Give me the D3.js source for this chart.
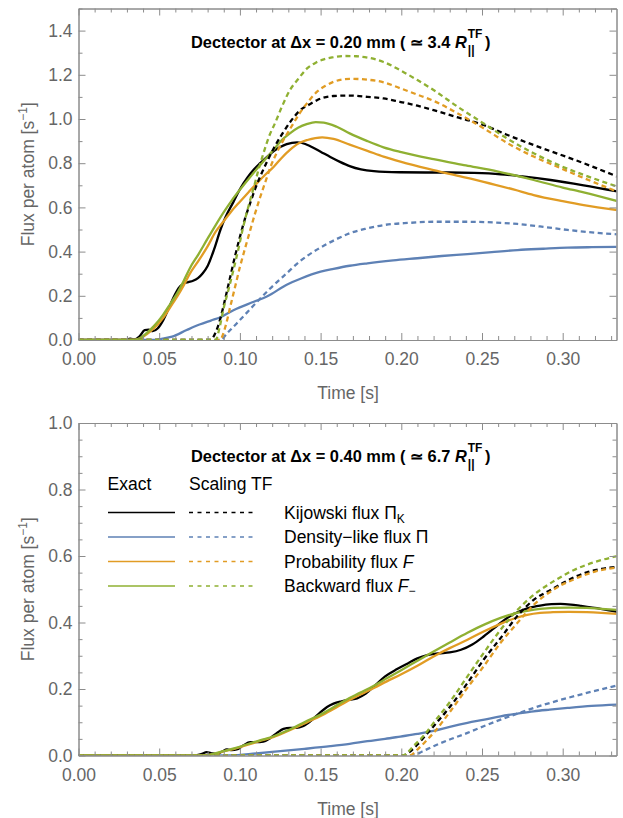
<!DOCTYPE html>
<html>
<head>
<meta charset="utf-8">
<script src="https://cdn.jsdelivr.net/npm/d3@7"></script>
<style>
  body { margin: 0; background: #fff; }
  svg { display: block; }
</style>
</head>
<body>
<svg id="chart" width="623" height="818"></svg>
<script>
// ---------------------------------------------------------------
// Data: arrival-time flux per atom, [time (s), flux (1/s)]
// ---------------------------------------------------------------
const timeTicks = [0, 0.05, 0.10, 0.15, 0.20, 0.25, 0.30];
const fluxTicksTop = [0, 0.2, 0.4, 0.6, 0.8, 1.0, 1.2, 1.4];
const fluxTicksBottom = [0, 0.2, 0.4, 0.6, 0.8, 1.0];

const titleTop = "Dectector at \u0394x = 0.20 mm ( \u2243 3.4 ";
const titleBottom = "Dectector at \u0394x = 0.40 mm ( \u2243 6.7 ";

// Detector at 0.20 mm
const topKijowskiExact = [[0,0],[0.029,0],[0.032,0.006],[0.035,0.003],[0.038,0.018],[0.041,0.045],[0.0435,0.047],[0.046,0.04],[0.049,0.052],[0.0525,0.09],[0.056,0.145],[0.059,0.195],[0.062,0.235],[0.065,0.255],[0.068,0.262],[0.071,0.268],[0.074,0.28],[0.077,0.302],[0.080,0.335],[0.084,0.41],[0.088,0.50],[0.091,0.555],[0.096,0.625],[0.100,0.682],[0.1045,0.733],[0.1085,0.77],[0.1126,0.80],[0.117,0.83],[0.121,0.855],[0.125,0.873],[0.129,0.886],[0.1355,0.894],[0.1405,0.887],[0.1436,0.877],[0.150,0.852],[0.156,0.828],[0.162,0.806],[0.168,0.787],[0.175,0.772],[0.183,0.764],[0.199,0.759],[0.215,0.758],[0.230,0.758],[0.245,0.756],[0.2615,0.75],[0.275,0.74],[0.2925,0.724],[0.313,0.70],[0.334,0.672]];
const topDensityExact = [[0,0],[0.046,0],[0.052,0.006],[0.058,0.015],[0.067,0.045],[0.075,0.07],[0.082,0.088],[0.088,0.103],[0.096,0.135],[0.1086,0.173],[0.117,0.198],[0.129,0.25],[0.1375,0.277],[0.15,0.309],[0.158,0.322],[0.168,0.336],[0.179,0.347],[0.195,0.36],[0.21,0.37],[0.225,0.38],[0.241,0.389],[0.256,0.398],[0.272,0.407],[0.288,0.413],[0.303,0.418],[0.318,0.42],[0.334,0.421]];
const topProbabilityExact = [[0,0],[0.034,0],[0.038,0.006],[0.042,0.025],[0.047,0.055],[0.0525,0.10],[0.057,0.15],[0.061,0.195],[0.065,0.245],[0.069,0.30],[0.0745,0.36],[0.0797,0.42],[0.085,0.49],[0.0897,0.535],[0.095,0.585],[0.100,0.626],[0.1055,0.67],[0.1106,0.71],[0.116,0.75],[0.121,0.784],[0.126,0.825],[0.131,0.86],[0.1365,0.89],[0.1418,0.905],[0.151,0.917],[0.158,0.91],[0.168,0.884],[0.179,0.856],[0.189,0.83],[0.20,0.806],[0.22,0.769],[0.24,0.735],[0.251,0.716],[0.27,0.68],[0.282,0.656],[0.30,0.628],[0.313,0.61],[0.334,0.588]];
const topBackwardExact = [[0,0],[0.034,0],[0.038,0.008],[0.042,0.03],[0.047,0.065],[0.0525,0.115],[0.057,0.165],[0.061,0.21],[0.065,0.265],[0.069,0.325],[0.0745,0.39],[0.0797,0.455],[0.085,0.52],[0.0897,0.575],[0.095,0.632],[0.100,0.68],[0.1055,0.73],[0.1106,0.775],[0.116,0.82],[0.121,0.862],[0.126,0.905],[0.131,0.935],[0.136,0.96],[0.1418,0.978],[0.147,0.986],[0.152,0.984],[0.16,0.965],[0.168,0.935],[0.179,0.9],[0.189,0.872],[0.20,0.85],[0.22,0.818],[0.24,0.79],[0.26,0.762],[0.282,0.724],[0.30,0.69],[0.313,0.668],[0.334,0.628]];
const topKijowskiTF = [[0,0],[0.0816,0],[0.085,0.035],[0.088,0.10],[0.091,0.19],[0.094,0.285],[0.097,0.38],[0.10,0.466],[0.1032,0.55],[0.1064,0.62],[0.1095,0.685],[0.1126,0.74],[0.117,0.81],[0.121,0.868],[0.126,0.93],[0.131,0.985],[0.1374,1.04],[0.1436,1.068],[0.148,1.086],[0.158,1.104],[0.168,1.106],[0.179,1.10],[0.189,1.093],[0.199,1.078],[0.21,1.06],[0.22,1.04],[0.235,1.007],[0.251,0.973],[0.265,0.93],[0.282,0.882],[0.298,0.84],[0.313,0.80],[0.334,0.739]];
const topDensityTF = [[0,0],[0.088,0],[0.092,0.03],[0.098,0.075],[0.1086,0.157],[0.119,0.235],[0.129,0.302],[0.137,0.355],[0.148,0.41],[0.154,0.435],[0.16,0.457],[0.168,0.483],[0.179,0.505],[0.189,0.52],[0.205,0.53],[0.22,0.535],[0.241,0.535],[0.257,0.532],[0.272,0.525],[0.288,0.512],[0.303,0.498],[0.318,0.487],[0.334,0.478]];
const topProbabilityTF = [[0,0],[0.0875,0],[0.091,0.06],[0.094,0.15],[0.097,0.24],[0.10,0.33],[0.1032,0.415],[0.1064,0.497],[0.1095,0.575],[0.1126,0.647],[0.116,0.72],[0.119,0.784],[0.123,0.85],[0.127,0.905],[0.1323,0.97],[0.1374,1.03],[0.1425,1.08],[0.148,1.125],[0.153,1.15],[0.158,1.168],[0.168,1.182],[0.179,1.178],[0.189,1.166],[0.199,1.14],[0.21,1.11],[0.22,1.082],[0.235,1.025],[0.251,0.958],[0.266,0.89],[0.282,0.83],[0.298,0.78],[0.313,0.733],[0.334,0.671]];
const topBackwardTF = [[0,0],[0.085,0],[0.0875,0.06],[0.0897,0.136],[0.093,0.23],[0.096,0.317],[0.099,0.41],[0.102,0.51],[0.1055,0.61],[0.1086,0.69],[0.1115,0.77],[0.1146,0.845],[0.118,0.92],[0.122,0.985],[0.126,1.055],[0.131,1.131],[0.136,1.18],[0.1418,1.23],[0.147,1.255],[0.152,1.27],[0.158,1.28],[0.164,1.285],[0.172,1.284],[0.179,1.278],[0.189,1.258],[0.199,1.222],[0.21,1.176],[0.22,1.131],[0.235,1.055],[0.251,0.98],[0.266,0.91],[0.282,0.845],[0.298,0.79],[0.313,0.747],[0.334,0.694]];

// Detector at 0.40 mm
const bottomKijowskiExact = [[0,0],[0.072,0],[0.076,0.004],[0.0795,0.01],[0.083,0.006],[0.0857,0.005],[0.089,0.012],[0.092,0.018],[0.095,0.016],[0.098,0.018],[0.102,0.03],[0.1064,0.04],[0.110,0.04],[0.1145,0.042],[0.119,0.053],[0.123,0.068],[0.127,0.08],[0.131,0.083],[0.135,0.083],[0.139,0.088],[0.144,0.104],[0.149,0.126],[0.154,0.146],[0.158,0.156],[0.163,0.163],[0.168,0.168],[0.1726,0.172],[0.178,0.186],[0.184,0.212],[0.19,0.238],[0.1974,0.26],[0.204,0.277],[0.21,0.292],[0.216,0.302],[0.223,0.307],[0.23,0.31],[0.237,0.318],[0.244,0.334],[0.251,0.358],[0.2575,0.383],[0.2615,0.399],[0.267,0.418],[0.272,0.431],[0.279,0.444],[0.286,0.451],[0.293,0.455],[0.2987,0.456],[0.305,0.454],[0.311,0.45],[0.3235,0.441],[0.334,0.432]];
const bottomDensityExact = [[0,0],[0.094,0],[0.11,0.006],[0.125,0.013],[0.14,0.02],[0.156,0.028],[0.168,0.035],[0.179,0.043],[0.19,0.05],[0.1994,0.057],[0.21,0.065],[0.22,0.074],[0.23,0.086],[0.241,0.098],[0.2515,0.108],[0.2615,0.118],[0.272,0.126],[0.282,0.133],[0.292,0.138],[0.303,0.143],[0.318,0.149],[0.334,0.153]];
const bottomProbabilityExact = [[0,0],[0.078,0],[0.083,0.003],[0.0897,0.012],[0.097,0.021],[0.104,0.031],[0.112,0.043],[0.121,0.056],[0.128,0.07],[0.135,0.085],[0.142,0.101],[0.15,0.119],[0.158,0.14],[0.166,0.162],[0.175,0.184],[0.183,0.203],[0.191,0.223],[0.1994,0.243],[0.21,0.27],[0.22,0.298],[0.23,0.323],[0.241,0.348],[0.251,0.373],[0.2615,0.396],[0.27,0.412],[0.278,0.423],[0.286,0.429],[0.294,0.431],[0.304,0.432],[0.315,0.431],[0.324,0.429],[0.334,0.426]];
const bottomBackwardExact = [[0,0],[0.077,0],[0.082,0.003],[0.0897,0.013],[0.097,0.022],[0.104,0.033],[0.112,0.045],[0.121,0.058],[0.128,0.072],[0.135,0.088],[0.142,0.105],[0.15,0.123],[0.158,0.145],[0.166,0.168],[0.175,0.19],[0.183,0.21],[0.191,0.232],[0.1994,0.255],[0.21,0.285],[0.22,0.313],[0.23,0.34],[0.241,0.369],[0.251,0.393],[0.2615,0.414],[0.27,0.427],[0.278,0.435],[0.286,0.441],[0.294,0.444],[0.304,0.445],[0.315,0.444],[0.324,0.441],[0.334,0.438]];
const bottomKijowskiTF = [[0,0],[0.2015,0],[0.205,0.01],[0.21,0.033],[0.215,0.06],[0.22,0.088],[0.2304,0.148],[0.241,0.218],[0.251,0.288],[0.2615,0.353],[0.272,0.42],[0.282,0.468],[0.2925,0.498],[0.3006,0.52],[0.307,0.536],[0.315,0.551],[0.324,0.561],[0.334,0.568]];
const bottomDensityTF = [[0,0],[0.2075,0],[0.213,0.012],[0.22,0.028],[0.23,0.048],[0.241,0.068],[0.251,0.088],[0.2615,0.108],[0.272,0.126],[0.282,0.143],[0.292,0.158],[0.303,0.173],[0.318,0.192],[0.334,0.211]];
const bottomProbabilityTF = [[0,0],[0.205,0],[0.21,0.018],[0.215,0.042],[0.22,0.068],[0.2304,0.133],[0.241,0.204],[0.251,0.268],[0.2615,0.339],[0.272,0.399],[0.282,0.453],[0.294,0.498],[0.307,0.53],[0.32,0.553],[0.334,0.566]];
const bottomBackwardTF = [[0,0],[0.201,0],[0.204,0.01],[0.2075,0.028],[0.214,0.06],[0.22,0.098],[0.2304,0.163],[0.241,0.238],[0.251,0.308],[0.2615,0.378],[0.272,0.438],[0.282,0.483],[0.294,0.523],[0.307,0.558],[0.32,0.582],[0.334,0.60]];

// Legend
const legendNames = ["Kijowski flux", "Density\u2212like flux", "Probability flux", "Backward flux"];
const legendHeaders = ["Exact", "Scaling TF"];

// ---------------------------------------------------------------
// Styling and layout
// ---------------------------------------------------------------
const FONT = "'Liberation Sans', Arial, Helvetica, sans-serif";
const colors = ["#000000", "#5E81B5", "#E19C24", "#8FB032"];
const frameColor = "#8c8c8c";
const labelColor = "#666666";
const left = 78.5, right = 616.5;

const svg = d3.select("#chart").style("font-family", FONT);

const x = d3.scaleLinear().domain([0, 1 / 3]).range([left, right]);

const panels = [
  { top: 8.5, bottom: 340, yMax: 1.5, yTicks: fluxTicksTop, minorStep: 0.1,
    title: titleTop, titleY: 47.5,
    exact: [topKijowskiExact, topDensityExact, topProbabilityExact, topBackwardExact],
    tf: [topKijowskiTF, topDensityTF, topProbabilityTF, topBackwardTF], legend: false },
  { top: 423, bottom: 755.5, yMax: 1.0, yTicks: fluxTicksBottom, minorStep: 0.05,
    title: titleBottom, titleY: 462,
    exact: [bottomKijowskiExact, bottomDensityExact, bottomProbabilityExact, bottomBackwardExact],
    tf: [bottomKijowskiTF, bottomDensityTF, bottomProbabilityTF, bottomBackwardTF], legend: true }
];

function styleAxis(g) {
  g.attr("font-family", FONT);
  g.select(".domain").attr("stroke", frameColor);
  g.selectAll(".tick line").attr("stroke", frameColor);
  g.selectAll(".tick text").attr("fill", labelColor).attr("font-size", 17.5);
}

// Bold title ending in R with a stacked "||" subscript and "TF" superscript
function drawTitle(g, x0, yBase, prefix) {
  const t = g.append("text").attr("x", x0).attr("y", yBase)
    .attr("font-size", 16.4).attr("font-weight", "bold").attr("fill", "#000");
  t.append("tspan").text(prefix);
  t.append("tspan").attr("font-style", "italic").text("R");
  const xs = x0 + t.node().getComputedTextLength() + 1;
  const sub = g.append("text").attr("x", xs).attr("y", yBase + 6)
    .attr("font-size", 12).attr("font-weight", "bold").text("||");
  const sup = g.append("text").attr("x", xs).attr("y", yBase - 10)
    .attr("font-size", 12).attr("font-weight", "bold").text("TF");
  const w2 = Math.max(sub.node().getComputedTextLength(), sup.node().getComputedTextLength());
  g.append("text").attr("x", xs + w2 + 2.5).attr("y", yBase)
    .attr("font-size", 16.4).attr("font-weight", "bold").text(")");
}

panels.forEach((p, i) => {
  const y = d3.scaleLinear().domain([0, p.yMax]).range([p.bottom, p.top]);
  const g = svg.append("g");
  const minorX = d3.range(0, 0.3401, 0.01).filter(v => Math.abs(v / 0.05 - Math.round(v / 0.05)) > 1e-6);
  const minorY = d3.range(0, p.yMax + 1e-9, p.minorStep)
    .filter(v => Math.abs(v / 0.2 - Math.round(v / 0.2)) > 1e-6);

  // clip region for the curves
  const clipId = "clip" + i;
  svg.append("clipPath").attr("id", clipId).append("rect")
    .attr("x", left).attr("y", p.top).attr("width", right - left).attr("height", p.bottom - p.top);

  // curves: exact solutions solid, scaling Thomas-Fermi dashed
  const line = d3.line().x(d => x(d[0])).y(d => y(d[1])).curve(d3.curveMonotoneX);
  const curves = g.append("g").attr("clip-path", `url(#${clipId})`);
  p.exact.forEach((s, k) => {
    curves.append("path").datum(s).attr("d", line).attr("fill", "none")
      .attr("stroke", colors[k]).attr("stroke-width", 2.3).attr("stroke-linejoin", "round");
  });
  p.tf.forEach((s, k) => {
    curves.append("path").datum(s).attr("d", line).attr("fill", "none")
      .attr("stroke", colors[k]).attr("stroke-width", 2.3).attr("stroke-dasharray", "5,3.5");
  });

  // frame with inward ticks on all four sides
  g.append("g").attr("transform", `translate(0,${p.bottom})`)
    .call(d3.axisBottom(x).tickValues(timeTicks).tickSize(-7).tickSizeOuter(0)
      .tickPadding(13).tickFormat(d3.format(".2f")))
    .call(styleAxis);
  g.append("g").attr("transform", `translate(0,${p.bottom})`)
    .call(d3.axisBottom(x).tickValues(minorX).tickSize(-4).tickSizeOuter(0).tickFormat(""))
    .call(styleAxis);
  g.append("g").attr("transform", `translate(0,${p.top})`)
    .call(d3.axisTop(x).tickValues(timeTicks).tickSize(-7).tickSizeOuter(0).tickFormat(""))
    .call(styleAxis);
  g.append("g").attr("transform", `translate(0,${p.top})`)
    .call(d3.axisTop(x).tickValues(minorX).tickSize(-4).tickSizeOuter(0).tickFormat(""))
    .call(styleAxis);
  g.append("g").attr("transform", `translate(${left},0)`)
    .call(d3.axisLeft(y).tickValues(p.yTicks).tickSize(-7).tickSizeOuter(0)
      .tickPadding(6).tickFormat(d3.format(".1f")))
    .call(styleAxis);
  g.append("g").attr("transform", `translate(${left},0)`)
    .call(d3.axisLeft(y).tickValues(minorY).tickSize(-4).tickSizeOuter(0).tickFormat(""))
    .call(styleAxis);
  g.append("g").attr("transform", `translate(${right},0)`)
    .call(d3.axisRight(y).tickValues(p.yTicks).tickSize(-7).tickSizeOuter(0).tickFormat(""))
    .call(styleAxis);
  g.append("g").attr("transform", `translate(${right},0)`)
    .call(d3.axisRight(y).tickValues(minorY).tickSize(-4).tickSizeOuter(0).tickFormat(""))
    .call(styleAxis);

  // axis labels
  g.append("text").attr("x", (left + right) / 2 + 0.5).attr("y", p.bottom + 59)
    .attr("text-anchor", "middle").attr("font-size", 17.5).attr("fill", labelColor)
    .text("Time [s]");
  const yl = g.append("text")
    .attr("transform", `translate(33.5,${(p.top + p.bottom) / 2}) rotate(-90)`)
    .attr("text-anchor", "middle").attr("font-size", 17.5).attr("fill", labelColor);
  yl.append("tspan").text("Flux per atom [s");
  yl.append("tspan").attr("font-size", 12).attr("dy", -7).text("\u22121");
  yl.append("tspan").attr("dy", 7).text("]");

  // title
  drawTitle(g, 191, p.titleY, p.title);

  // legend
  if (p.legend) {
    const lg = g.append("g").attr("font-size", 17.5).attr("fill", "#000");
    const colX = [107.5, 189];
    legendHeaders.forEach((h, k) => {
      lg.append("text").attr("x", colX[k]).attr("y", 490).text(h);
    });
    const rowY = [512.5, 537, 561.5, 586];
    legendNames.forEach((name, k) => {
      lg.append("line").attr("x1", 108).attr("x2", 175).attr("y1", rowY[k]).attr("y2", rowY[k])
        .attr("stroke", colors[k]).attr("stroke-width", 1.7);
      lg.append("line").attr("x1", 189).attr("x2", 253).attr("y1", rowY[k]).attr("y2", rowY[k])
        .attr("stroke", colors[k]).attr("stroke-width", 1.7).attr("stroke-dasharray", "4,4.5");
      const t = lg.append("text").attr("x", 284).attr("y", rowY[k] + 6);
      if (k === 0) {
        t.append("tspan").text(name + " \u03A0");
        t.append("tspan").attr("font-size", 12).attr("dy", 4).text("K");
      } else if (k === 1) {
        t.append("tspan").text(name + " \u03A0");
      } else if (k === 2) {
        t.append("tspan").text(name + " ");
        t.append("tspan").attr("font-style", "italic").text("F");
      } else {
        t.append("tspan").text(name + " ");
        t.append("tspan").attr("font-style", "italic").text("F");
        t.append("tspan").attr("font-size", 12).attr("dy", 3).text("\u2212");
      }
    });
  }
});
</script>
</body>
</html>
